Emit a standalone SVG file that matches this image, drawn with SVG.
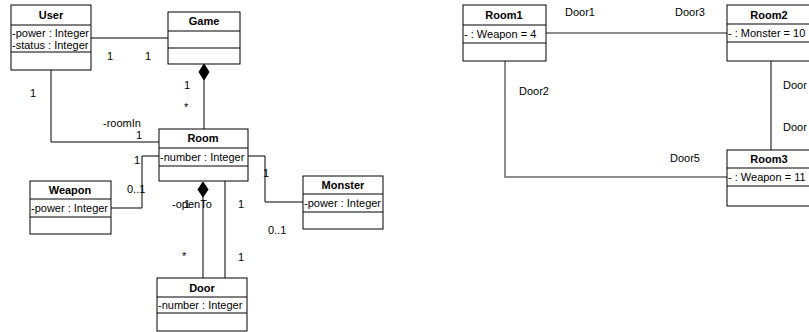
<svg xmlns="http://www.w3.org/2000/svg" width="809" height="332" viewBox="0 0 809 332">
<style>
text{font-family:"Liberation Sans",Arial,sans-serif;font-size:11px;fill:#000}
.h{font-weight:bold;text-anchor:middle}
.box{fill:#fff;stroke:#000;stroke-width:1}
.ln{fill:none;stroke:#000;stroke-width:1}
.gl{fill:none;stroke:#666;stroke-width:1.5}
.dia{fill:#000;stroke:#000;stroke-width:1}
</style>
<g id="connectors">
<path class="ln" d="M91 38 H168"/>
<path class="ln" d="M51 70 V142 H159"/>
<path class="ln" d="M204 80 V129"/>
<path class="dia" d="M204 64 L209 72 L204 80 L199 72 Z"/>
<path class="ln" d="M111 208 H142 V156 H159"/>
<path class="ln" d="M248 156 H265 V202 H303"/>
<path class="dia" d="M203 182 L208 189.5 L203 197 L198 189.5 Z"/>
<path class="ln" d="M203 197 V278"/>
<path class="ln" d="M225 181 V278"/>
<path class="gl" d="M546 33 H727"/>
<path class="gl" d="M505 61 V177 H727"/>
<path class="ln" d="M771 61 V150"/>
</g>
<g id="labels">
<text x="107" y="60">1</text>
<text x="145" y="60">1</text>
<text x="30" y="97">1</text>
<text x="184" y="89">1</text>
<text x="184" y="111">*</text>
<text x="103" y="127">-roomIn</text>
<text x="136" y="139">1</text>
<text x="134" y="164">1</text>
<text x="127" y="193">0..1</text>
<text x="263" y="177">1</text>
<text x="268" y="234">0..1</text>
<text x="172" y="208">-openTo</text>
<text x="184" y="208">1</text>
<text x="238" y="208">1</text>
<text x="182" y="260">*</text>
<text x="238" y="261">1</text>
<text x="565" y="16">Door1</text>
<text x="675" y="16">Door3</text>
<text x="519" y="95">Door2</text>
<text x="670" y="162">Door5</text>
<text x="783" y="89">Door</text>
<text x="783" y="131">Door</text>
</g>
<g id="User">
<rect class="box" x="11" y="5" width="80" height="65"/>
<path class="ln" d="M11 25 H91 M11 52 H91"/>
<text class="h" x="51" y="19">User</text>
<text x="12" y="37">-power : Integer</text>
<text x="12" y="49">-status : Integer</text>
</g>
<g id="Game">
<rect class="box" x="168" y="12" width="72" height="52"/>
<path class="ln" d="M168 31 H240 M168 48 H240"/>
<text class="h" x="204" y="25">Game</text>
</g>
<g id="Room">
<rect class="box" x="159" y="129" width="89" height="52"/>
<path class="ln" d="M159 148 H248 M159 166 H248"/>
<text class="h" x="203" y="142">Room</text>
<text x="160" y="161">-number : Integer</text>
</g>
<g id="Weapon">
<rect class="box" x="30" y="181" width="81" height="53"/>
<path class="ln" d="M30 199 H111 M30 217 H111"/>
<text class="h" x="70" y="194">Weapon</text>
<text x="31" y="212">-power : Integer</text>
</g>
<g id="Monster">
<rect class="box" x="303" y="176" width="80" height="53"/>
<path class="ln" d="M303 194 H383 M303 212 H383"/>
<text class="h" x="343" y="189">Monster</text>
<text x="304" y="207">-power : Integer</text>
</g>
<g id="Door">
<rect class="box" x="157" y="278" width="90" height="53"/>
<path class="ln" d="M157 297 H247 M157 313 H247"/>
<text class="h" x="202" y="292">Door</text>
<text x="158" y="309">-number : Integer</text>
</g>
<g id="Room1">
<rect class="box" x="463" y="5" width="83" height="56"/>
<path class="ln" d="M463 25 H546 M463 43 H546"/>
<text class="h" x="504" y="19">Room1</text>
<text x="464" y="38">- : Weapon = 4</text>
</g>
<g id="Room2">
<rect class="box" x="727" y="5" width="90" height="56"/>
<path class="ln" d="M727 24 H817 M727 42 H817"/>
<text class="h" x="769" y="19">Room2</text>
<text x="728" y="37">- : Monster = 10</text>
</g>
<g id="Room3">
<rect class="box" x="727" y="150" width="90" height="56"/>
<path class="ln" d="M727 168 H817 M727 186 H817"/>
<text class="h" x="769" y="163">Room3</text>
<text x="728" y="181">- : Weapon = 11</text>
</g>
</svg>
